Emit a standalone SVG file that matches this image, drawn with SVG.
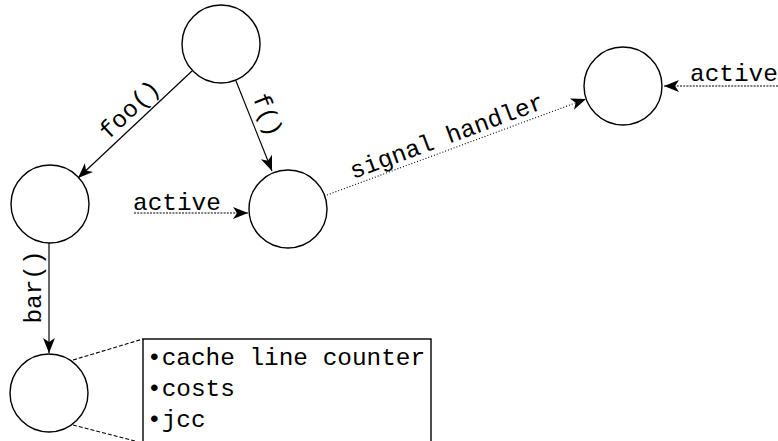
<svg xmlns="http://www.w3.org/2000/svg" width="778" height="441" viewBox="0 0 778 441">
  <style>
    .node { fill: #fff; stroke: #000; stroke-width: 1.4; }
    .edge { fill: none; stroke: #000; stroke-width: 1.2; }
    .dots { fill: none; stroke: #000; stroke-width: 1.1; stroke-dasharray: 1 2; }
    .dash { fill: none; stroke: #000; stroke-width: 1.1; stroke-dasharray: 2 1.2; }
    .lead { fill: none; stroke: #000; stroke-width: 1.1; stroke-dasharray: 4 2; }
    .lbl { font-family: "Liberation Mono", "DejaVu Sans Mono", monospace; font-size: 24.4px; fill: #000; }
    .box { fill: #fff; stroke: #000; stroke-width: 1.4; }
  </style>
  <defs>
    <marker id="stealth" viewBox="-16 -7 18 14" markerWidth="18" markerHeight="14" refX="0" refY="0" orient="auto" markerUnits="userSpaceOnUse">
      <path d="M0,0 L-15,-6 L-11,0 L-15,6 Z" fill="#000"/>
    </marker>
  </defs>

  <g id="connectors">
    <line class="edge" x1="192" y1="71" x2="78" y2="178" marker-end="url(#stealth)"/>
    <line class="edge" x1="236" y1="81" x2="272" y2="171" marker-end="url(#stealth)"/>
    <line class="edge" x1="49" y1="243" x2="49" y2="353" marker-end="url(#stealth)"/>
    <line class="dots" x1="327" y1="195" x2="586" y2="99" marker-end="url(#stealth)"/>
    <line class="dash" x1="134" y1="213" x2="248" y2="213" marker-end="url(#stealth)"/>
    <line class="dash" x1="778" y1="86" x2="664" y2="86" marker-end="url(#stealth)"/>
    <line class="lead" x1="73" y1="360" x2="143" y2="339"/>
    <line class="lead" x1="73" y1="425" x2="143" y2="443"/>

    <text class="lbl" text-anchor="middle" transform="translate(130,110) rotate(-43.4)" y="7">foo()</text>
    <text class="lbl" text-anchor="middle" transform="translate(267,115) rotate(68.4)" y="7">f()</text>
    <text class="lbl" text-anchor="middle" transform="translate(34,287) rotate(-90)" y="7">bar()</text>
    <text class="lbl" text-anchor="middle" transform="translate(447,137) rotate(-20.3)" y="7">signal handler</text>
    <text class="lbl" x="133" y="210">active</text>
    <text class="lbl" x="690" y="81">active</text>
  </g>

  <g id="node-top"><circle class="node" cx="221" cy="44" r="39"/></g>
  <g id="node-left"><circle class="node" cx="50" cy="204" r="39"/></g>
  <g id="node-mid"><circle class="node" cx="288" cy="209" r="39"/></g>
  <g id="node-right"><circle class="node" cx="623" cy="86" r="39"/></g>
  <g id="node-bottom"><circle class="node" cx="49" cy="393" r="39"/></g>

  <g id="note">
    <rect class="box" x="143" y="339" width="288" height="110"/>
    <text class="lbl" x="147" y="365">•cache line counter</text>
    <text class="lbl" x="147" y="396">•costs</text>
    <text class="lbl" x="147" y="427">•jcc</text>
  </g>
</svg>
